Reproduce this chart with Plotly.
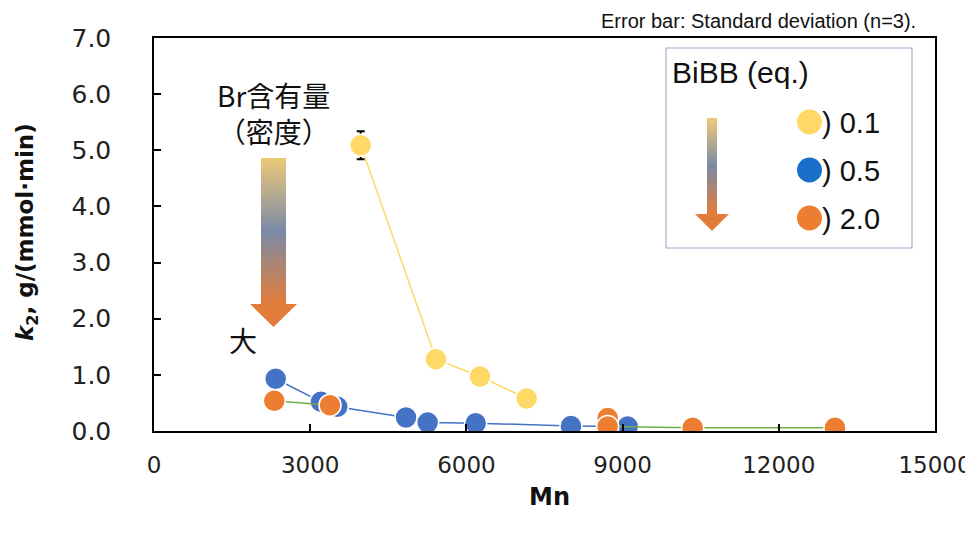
import plotly.graph_objects as go

# ---------------- data ----------------
yellow_mn = [3970, 5416, 6261, 7158]
yellow_k2 = [5.09, 1.28, 0.97, 0.58]
yellow_sd = [0.25, 0.0, 0.0, 0.0]

blue_mn = [2337, 3207, 3520, 4840, 5256, 6178, 8008, 9097]
blue_k2 = [0.93, 0.52, 0.43, 0.24, 0.15, 0.14, 0.09, 0.08]

orange_mn = [2310, 3380, 8713, 8713, 10346, 13079]
orange_k2 = [0.54, 0.46, 0.23, 0.08, 0.06, 0.06]
orange_line_segments = [[0, 1], [3, 4, 5]]   # visible green connecting segments

x_ticks = [0, 3000, 6000, 9000, 12000, 15000]
x_ticktext = ["0", "3000", "6000", "9000", "12000", "15000"]
y_ticks = [0, 1, 2, 3, 4, 5, 6, 7]

legend_labels = [") 0.1", ") 0.5", ") 2.0"]

# ---------------- styling ----------------
C_YEL = "#FFD966"
C_BLU = "#4472C4"
C_ORA = "#ED7D31"
C_GRN = "#70AD47"

PAGE_W, PAGE_H = 973, 535
OFF = 8                                  # default page body margin
W, H = PAGE_W - OFF, PAGE_H - OFF
L, R, T, B = 154, 935, 38, 431           # plot area in page pixels


def px(x):
    return (x - L) / (R - L)


def py(y):
    return (B - y) / (B - T)


fig = go.Figure()

# yellow series
fig.add_trace(go.Scatter(
    x=yellow_mn, y=yellow_k2, mode="lines+markers",
    line=dict(color=C_YEL, width=1.5),
    marker=dict(color=C_YEL, size=22, line=dict(color="white", width=1.5)),
    error_y=dict(type="data", array=yellow_sd, visible=True, color="black",
                 thickness=2, width=4),
    showlegend=False, hoverinfo="x+y"))

# blue series
fig.add_trace(go.Scatter(
    x=blue_mn, y=blue_k2, mode="lines+markers",
    line=dict(color=C_BLU, width=1.5),
    marker=dict(color=C_BLU, size=22, line=dict(color="white", width=1.5)),
    showlegend=False, hoverinfo="x+y"))

# orange series: green connecting line segments, then markers
for seg in orange_line_segments:
    fig.add_trace(go.Scatter(
        x=[orange_mn[i] for i in seg], y=[orange_k2[i] for i in seg],
        mode="lines", line=dict(color=C_GRN, width=1.5),
        showlegend=False, hoverinfo="skip"))
fig.add_trace(go.Scatter(
    x=orange_mn, y=orange_k2, mode="markers",
    marker=dict(color=C_ORA, size=22, line=dict(color="white", width=1.5)),
    showlegend=False, hoverinfo="x+y"))

shapes = []


def grad_color(t):
    stops = [(0.0, (236, 200, 122)), (0.5, (122, 138, 166)), (1.0, (226, 124, 58))]
    for (t0, c0), (t1, c1) in zip(stops[:-1], stops[1:]):
        if t <= t1:
            f = (t - t0) / (t1 - t0)
            c = [round(a + (b - a) * f) for a, b in zip(c0, c1)]
            return "rgb(%d,%d,%d)" % tuple(c)
    return "rgb(226,124,58)"


def gradient_arrow(x0, x1, y0, y1, hx0, hx1, hy1, n=60):
    h = (y1 - y0) / n
    for i in range(n):
        shapes.append(dict(type="rect", xref="paper", yref="paper",
                           x0=px(x0), x1=px(x1), y0=py(y0 + i * h), y1=py(y0 + (i + 1) * h + 0.6),
                           fillcolor=grad_color(i / (n - 1)), line=dict(width=0), layer="above"))
    xm = (hx0 + hx1) / 2
    shapes.append(dict(type="path", xref="paper", yref="paper",
                       path="M %f %f L %f %f L %f %f Z" % (px(hx0), py(y1), px(hx1), py(y1), px(xm), py(hy1)),
                       fillcolor="rgb(226,124,58)", line=dict(width=0), layer="above"))


# big arrow in the plot
gradient_arrow(261, 286, 158, 304, 250, 297, 327)

# legend box
shapes.append(dict(type="rect", xref="paper", yref="paper",
                   x0=px(666), x1=px(912), y0=py(248), y1=py(48),
                   line=dict(color="#9DB0CC", width=1.2), fillcolor="white", layer="below"))
# legend arrow
gradient_arrow(707, 717, 118, 214, 695, 729, 231, n=40)

# legend circles
leg_cols = [C_YEL, "#1A6FCB", C_ORA]
leg_y = [122, 170, 218]
for c, yy in zip(leg_cols, leg_y):
    shapes.append(dict(type="circle", xref="paper", yref="paper",
                       x0=px(797), x1=px(822), y0=py(yy + 12.5), y1=py(yy - 12.5),
                       fillcolor=c, line=dict(width=0), layer="above"))

annotations = []
# legend title and labels
annotations.append(dict(text="BiBB (eq.)", xref="paper", yref="paper", x=px(670), y=py(73),
                        xanchor="left", yanchor="middle", showarrow=False,
                        font=dict(family="Liberation Sans, Arial", size=30, color="#111")))
for lab, yy in zip(legend_labels, leg_y):
    annotations.append(dict(text=lab, xref="paper", yref="paper", x=px(820), y=py(yy + 1),
                            xanchor="left", yanchor="middle", showarrow=False,
                            font=dict(family="Liberation Sans, Arial", size=29, color="#111")))

# top note
annotations.append(dict(text="Error bar: Standard deviation (n=3).", xref="paper", yref="paper",
                        x=px(918), y=py(21), xanchor="right", yanchor="middle", showarrow=False,
                        font=dict(family="Liberation Sans, Arial", size=20, color="#111")))

# in-plot Japanese text
cjk = "Noto Sans CJK JP, Liberation Sans"
annotations.append(dict(text="Br含有量<br>（密度）", xref="paper", yref="paper", x=px(273), y=py(113),
                        xanchor="center", yanchor="middle", align="center", showarrow=False,
                        font=dict(family=cjk, size=28, color="#111")))
annotations.append(dict(text="大", xref="paper", yref="paper", x=px(243), y=py(340),
                        xanchor="center", yanchor="middle", showarrow=False,
                        font=dict(family=cjk, size=28, color="#111")))

# axis titles
annotations.append(dict(text="<b><i>k</i><sub>2</sub>, g/(mmol·min)</b>", xref="paper", yref="paper",
                        x=px(27), y=py(232), xanchor="center", yanchor="middle", textangle=-90,
                        showarrow=False, font=dict(family="DejaVu Sans", size=23, color="#111")))
annotations.append(dict(text="<b>Mn</b>", xref="paper", yref="paper", x=px(549), y=py(497),
                        xanchor="center", yanchor="middle", showarrow=False,
                        font=dict(family="DejaVu Sans", size=24, color="#111")))

fig.update_layout(
    width=W, height=H,
    margin=dict(l=L - OFF, r=PAGE_W - R, t=T - OFF, b=PAGE_H - B, autoexpand=False),
    paper_bgcolor="white", plot_bgcolor="white",
    shapes=shapes, annotations=annotations,
    xaxis=dict(range=[0, 15000], tickvals=x_ticks, ticktext=x_ticktext, ticks="inside", ticklen=7,
               tickwidth=1.5, tickcolor="black", showline=True, linecolor="black", linewidth=1.5,
               mirror=True, showgrid=False, zeroline=False, ticklabelstandoff=13,
               ticklabeloverflow="allow",
               tickfont=dict(family="DejaVu Sans", size=23, color="#222")),
    yaxis=dict(range=[0, 7], tickvals=y_ticks, tickformat=".1f", ticks="inside", ticklen=7,
               tickwidth=1.5, tickcolor="black", showline=True, linecolor="black", linewidth=1.5,
               mirror=True, showgrid=False, zeroline=False, ticklabelstandoff=36,
               tickfont=dict(family="DejaVu Sans", size=25, color="#222")),
)

fig.write_html("out.html")
